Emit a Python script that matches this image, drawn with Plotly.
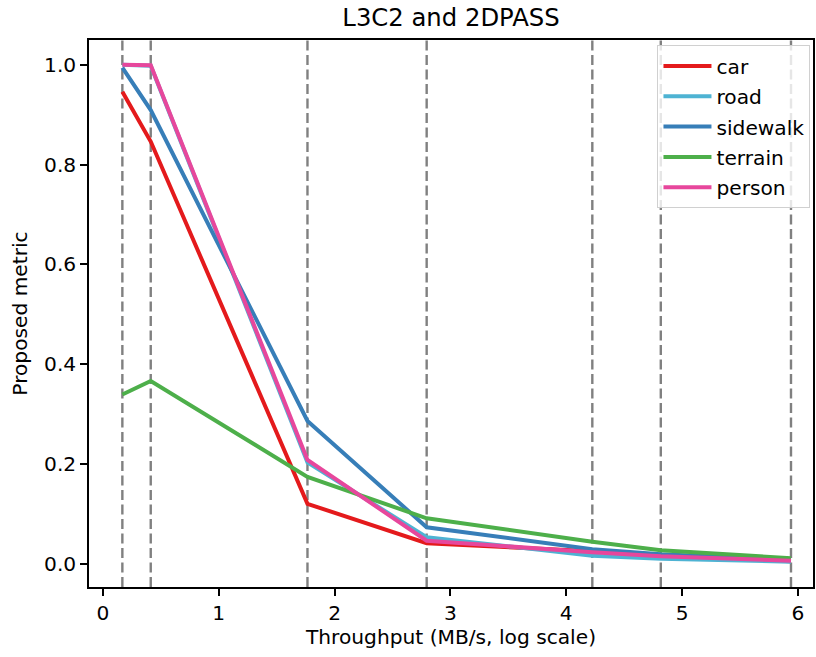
import plotly.graph_objects as go

# Throughput operating points (MB/s) and per-class metric values
throughput = [0.168, 0.413, 1.766, 2.795, 4.225, 4.816, 5.94]
car = [0.946, 0.846, 0.120, 0.041, 0.025, 0.016, 0.005]
road = [1.0, 0.998, 0.203, 0.053, 0.016, 0.010, 0.004]
sidewalk = [0.994, 0.909, 0.286, 0.073, 0.029, 0.019, 0.008]
terrain = [0.339, 0.366, 0.174, 0.091, 0.044, 0.027, 0.011]
person = [1.0, 0.999, 0.208, 0.046, 0.023, 0.015, 0.006]

series = [
    ("car", car, "#e41a1c"),
    ("road", road, "#4eb3d3"),
    ("sidewalk", sidewalk, "#377eb8"),
    ("terrain", terrain, "#4daf4a"),
    ("person", person, "#e7479c"),
]

fig = go.Figure()
for name, vals, color in series:
    fig.add_trace(go.Scatter(
        x=throughput, y=vals, mode="lines", name=name,
        legendgroup=name,
        line=dict(color=color, width=4),
    ))

# Dashed marker at every operating point
for xv in throughput:
    fig.add_shape(type="line", x0=xv, x1=xv, y0=0, y1=1,
                  xref="x", yref="y domain", layer="below",
                  line=dict(color="#808080", width=2.4, dash="10px,4.5px"))

font = "DejaVu Sans"
fs = 20.2
fig.update_layout(
    width=816, height=657,
    margin=dict(l=89, r=1, t=40, b=70),
    plot_bgcolor="white", paper_bgcolor="white",
    font=dict(family=font, size=fs, color="black"),
    title=dict(text="L3C2 and 2DPASS", x=0.5527, xanchor="center",
               y=1 - 17 / 657, yanchor="middle",
               font=dict(family=font, size=24.3, color="black")),
    showlegend=True,
    legend=dict(
        x=0.9965, xanchor="right", y=0.99, yanchor="top",
        bgcolor="rgba(255,255,255,0.8)", bordercolor="#d0d0d0", borderwidth=1,
        font=dict(family=font, size=fs, color="black"),
        tracegroupgap=1, itemwidth=48,
    ),
)
fig.update_xaxes(
    range=[-0.12, 6.13], tickvals=[0, 1, 2, 3, 4, 5, 6],
    showgrid=False, zeroline=False,
    showline=True, mirror=True, linecolor="black", linewidth=1.6,
    ticks="outside", ticklen=7, tickwidth=1.6, tickcolor="black",
    tickfont=dict(family=font, size=fs),
    title=dict(text="Throughput (MB/s, log scale)", standoff=6,
               font=dict(family=font, size=fs)),
)
fig.update_yaxes(
    range=[-0.0467, 1.0495], tickvals=[0, 0.2, 0.4, 0.6, 0.8, 1.0],
    tickformat=".1f",
    showgrid=False, zeroline=False,
    showline=True, mirror=True, linecolor="black", linewidth=1.6,
    ticks="outside", ticklen=7, tickwidth=1.6, tickcolor="black",
    tickfont=dict(family=font, size=fs),
    title=dict(text="Proposed metric", standoff=11,
               font=dict(family=font, size=fs)),
)

fig.write_html("out.html")
